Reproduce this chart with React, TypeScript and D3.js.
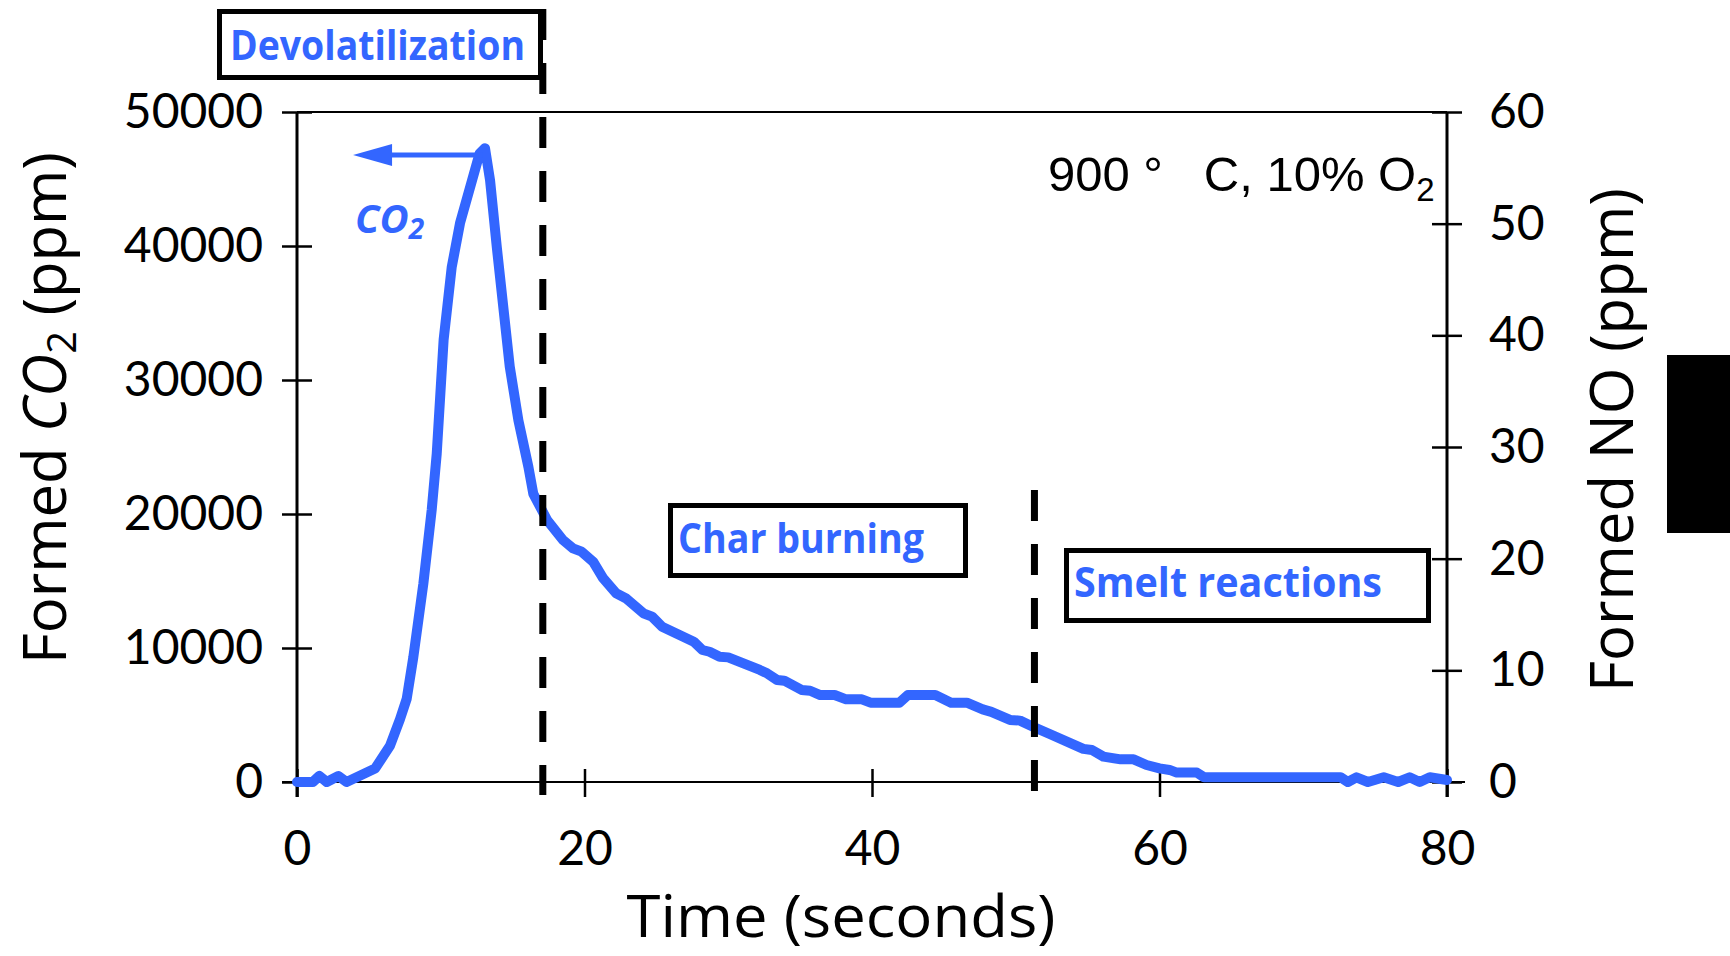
import React, { useEffect, useRef } from 'react'
import * as d3 from 'd3'

// CO2 trace (time in s, CO2 in ppm)
const time = [
  0, 1.1, 1.55, 2.07, 2.88, 3.45, 5.43, 6.47, 7.17, 7.63, 8.09, 8.79, 9.37, 9.72,
  10.2, 10.76, 11.34, 12.7, 13.08, 13.43, 13.9, 14.8, 15.4, 16.1, 16.44, 17.4,
  18.5, 19.2, 19.8, 20.6, 21.3, 22.2, 22.9, 24.1, 24.7, 25.4, 27.6, 28.2, 28.7,
  29.4, 30.0, 32.2, 32.7, 33.4, 33.9, 35.1, 35.7, 36.4, 37.4, 38.2, 39.3, 39.9,
  41.9, 42.5, 44.4, 45.5, 46.6, 47.7, 48.3, 49.6, 50.3, 51.2, 52.4, 54.7, 55.3,
  56.1, 57.3, 58.2, 59.1, 60.0, 60.7, 61.2, 62.6, 63.1, 72.6, 73.1, 73.7, 74.5,
  75.6, 76.6, 77.4, 78.1, 78.8, 80,
]
const co2 = [
  0, 0, 450, 0, 450, 0, 1000, 2700, 4700, 6200, 9300, 14800, 20300, 24500,
  33000, 38400, 41700, 46900, 47300, 44900, 39900, 31000, 27000, 23500, 21500, 19550,
  18060, 17440, 17190, 16440, 15200, 14080, 13700, 12590, 12340, 11590, 10470, 9850, 9720,
  9350, 9300, 8360, 8110, 7610, 7560, 6870, 6810, 6490, 6490, 6170, 6170, 5920,
  5920, 6490, 6490, 5920, 5920, 5420, 5230, 4630, 4580, 4130, 3560, 2470, 2390,
  1890, 1690, 1690, 1270, 1020, 900, 700, 700, 350, 350, 0, 350, 0,
  350, 0, 350, 0, 350, 150,
]

const timeTicks = [0, 20, 40, 60, 80]
const co2Ticks = [0, 10000, 20000, 30000, 40000, 50000]
const noTicks = [0, 10, 20, 30, 40, 50, 60]

// phase boundaries (s)
const phaseBounds = [17.1, 51.3]
const phaseLabels = ['Devolatilization', 'Char burning', 'Smelt reactions']

const W = 1730
const H = 956
const margin = { top: 112, right: 283, bottom: 174, left: 297 }
const blue = '#3366ff'
const tickFont = "Lato, 'Noto Sans', sans-serif"
const titleFont = "'Comic Sans MS', 'Open Sans', sans-serif"

// box layout for phase labels (pixels)
const boxes = [
  { x: 219.5, y: 11.5, w: 321, h: 66, tx: 230, ty: 60, len: 295 },
  { x: 670.5, y: 505.5, w: 295, h: 70, tx: 678, ty: 553, len: 246 },
  { x: 1066.5, y: 550.5, w: 362, h: 70, tx: 1074, ty: 597, len: 308 },
]

function App() {
  const xAxisRef = useRef(null)
  const yLeftRef = useRef(null)
  const yRightRef = useRef(null)

  const x = d3.scaleLinear().domain([0, 80]).range([margin.left, W - margin.right])
  const yL = d3.scaleLinear().domain([0, 50000]).range([H - margin.bottom, margin.top])
  const yR = d3.scaleLinear().domain([0, 60]).range([H - margin.bottom, margin.top])

  const pts = time.map((t, i) => [t, co2[i]])
  const path = d3.line().x(d => x(d[0])).y(d => yL(d[1]))(pts)

  useEffect(() => {
    const fmt = d3.format('d')
    const xa = d3.select(xAxisRef.current)
    xa.call(d3.axisBottom(x).tickValues(timeTicks).tickFormat(fmt).tickSize(15).tickSizeOuter(0).tickPadding(34))
    xa.selectAll('.tick line').attr('y1', -13)

    const yl = d3.select(yLeftRef.current)
    yl.call(d3.axisLeft(yL).tickValues(co2Ticks).tickFormat(fmt).tickSize(15).tickSizeOuter(0).tickPadding(19))
    yl.selectAll('.tick line').attr('x1', 15)

    const yr = d3.select(yRightRef.current)
    yr.call(d3.axisRight(yR).tickValues(noTicks).tickFormat(fmt).tickSize(15).tickSizeOuter(0).tickPadding(27))
    yr.selectAll('.tick line').attr('x1', -15)

    for (const g of [xa, yl, yr]) {
      g.attr('font-size', 48).attr('font-family', tickFont)
      g.select('.domain').remove()
      g.selectAll('.tick line').attr('stroke', '#000').attr('stroke-width', 2.5)
      g.selectAll('.tick text').attr('fill', '#000')
    }
  }, [])

  const x0 = margin.left
  const x1 = W - margin.right
  const y0 = H - margin.bottom
  const y1 = margin.top
  const arrowY = yL(46800)
  const tip = x(3.9)

  return (
    <svg width={W} height={H} style={{ position: 'absolute', left: 0, top: 0, background: '#fff' }}>
      {/* frame */}
      <line x1={x0} x2={x1} y1={y1} y2={y1} stroke="#000" strokeWidth={2} />
      <line x1={x0 - 15} x2={x1 + 18} y1={y0} y2={y0} stroke="#000" strokeWidth={2} />
      <line x1={x0} x2={x0} y1={y1} y2={y0 + 15} stroke="#000" strokeWidth={3} />
      <line x1={x1} x2={x1} y1={y1} y2={y0 + 15} stroke="#000" strokeWidth={3} />

      <g ref={xAxisRef} transform={`translate(0,${y0})`} />
      <g ref={yLeftRef} transform={`translate(${x0},0)`} />
      <g ref={yRightRef} transform={`translate(${x1},0)`} />

      {/* CO2 trace */}
      <path d={path} fill="none" stroke={blue} strokeWidth={10} strokeLinejoin="round" strokeLinecap="round" />

      {/* phase boundaries */}
      <line x1={x(phaseBounds[0])} x2={x(phaseBounds[0])} y1={9} y2={795}
        stroke="#000" strokeWidth={7} strokeDasharray="31 23" />
      <line x1={x(phaseBounds[1])} x2={x(phaseBounds[1])} y1={490} y2={792}
        stroke="#000" strokeWidth={7} strokeDasharray="31 23" />

      {/* phase label boxes */}
      {boxes.map((b, i) => (
        <g key={i}>
          <rect x={b.x} y={b.y} width={b.w} height={b.h} fill="#fff" stroke="#000" strokeWidth={5} />
          <text x={b.tx} y={b.ty} fill={blue} fontSize={42} fontWeight="bold" fontFamily={titleFont}
            textLength={b.len} lengthAdjust="spacingAndGlyphs">{phaseLabels[i]}</text>
        </g>
      ))}

      {/* CO2 arrow */}
      <line x1={x(12.9)} x2={tip + 30} y1={arrowY} y2={arrowY} stroke={blue} strokeWidth={5} />
      <polygon points={`${tip},${arrowY} ${tip + 39},${arrowY - 11} ${tip + 39},${arrowY + 11}`} fill={blue} />
      <text x={355} y={233} fill={blue} fontSize={40} fontWeight="bold" fontStyle="italic" fontFamily={titleFont}>
        CO<tspan fontSize={28} dy={6}>2</tspan>
      </text>

      {/* condition */}
      <text x={1048} y={191} fontSize={49} fontFamily="'Liberation Sans', Arial, sans-serif" style={{ whiteSpace: 'pre' }}>
        {'900 °   C, 10% O'}<tspan fontSize={33} dy={10}>2</tspan>
      </text>

      {/* axis titles */}
      <text transform="translate(66,408) rotate(-90)" textAnchor="middle" fontSize={60} fontFamily={titleFont}
        textLength={512} lengthAdjust="spacingAndGlyphs">
        Formed <tspan fontStyle="italic">CO</tspan><tspan fontSize={40} dy={10}>2</tspan><tspan dy={-10}> (ppm)</tspan>
      </text>
      <text transform="translate(1633,440) rotate(-90)" textAnchor="middle" fontSize={60} fontFamily={titleFont}
        textLength={504} lengthAdjust="spacingAndGlyphs">
        Formed NO (ppm)
      </text>
      <text x={841} y={937} textAnchor="middle" fontSize={58} fontFamily={titleFont}
        textLength={429} lengthAdjust="spacingAndGlyphs">
        Time (seconds)
      </text>

      {/* black block at right edge */}
      <rect x={1667} y={355} width={63} height={178} fill="#000" />
    </svg>
  )
}

export default App
